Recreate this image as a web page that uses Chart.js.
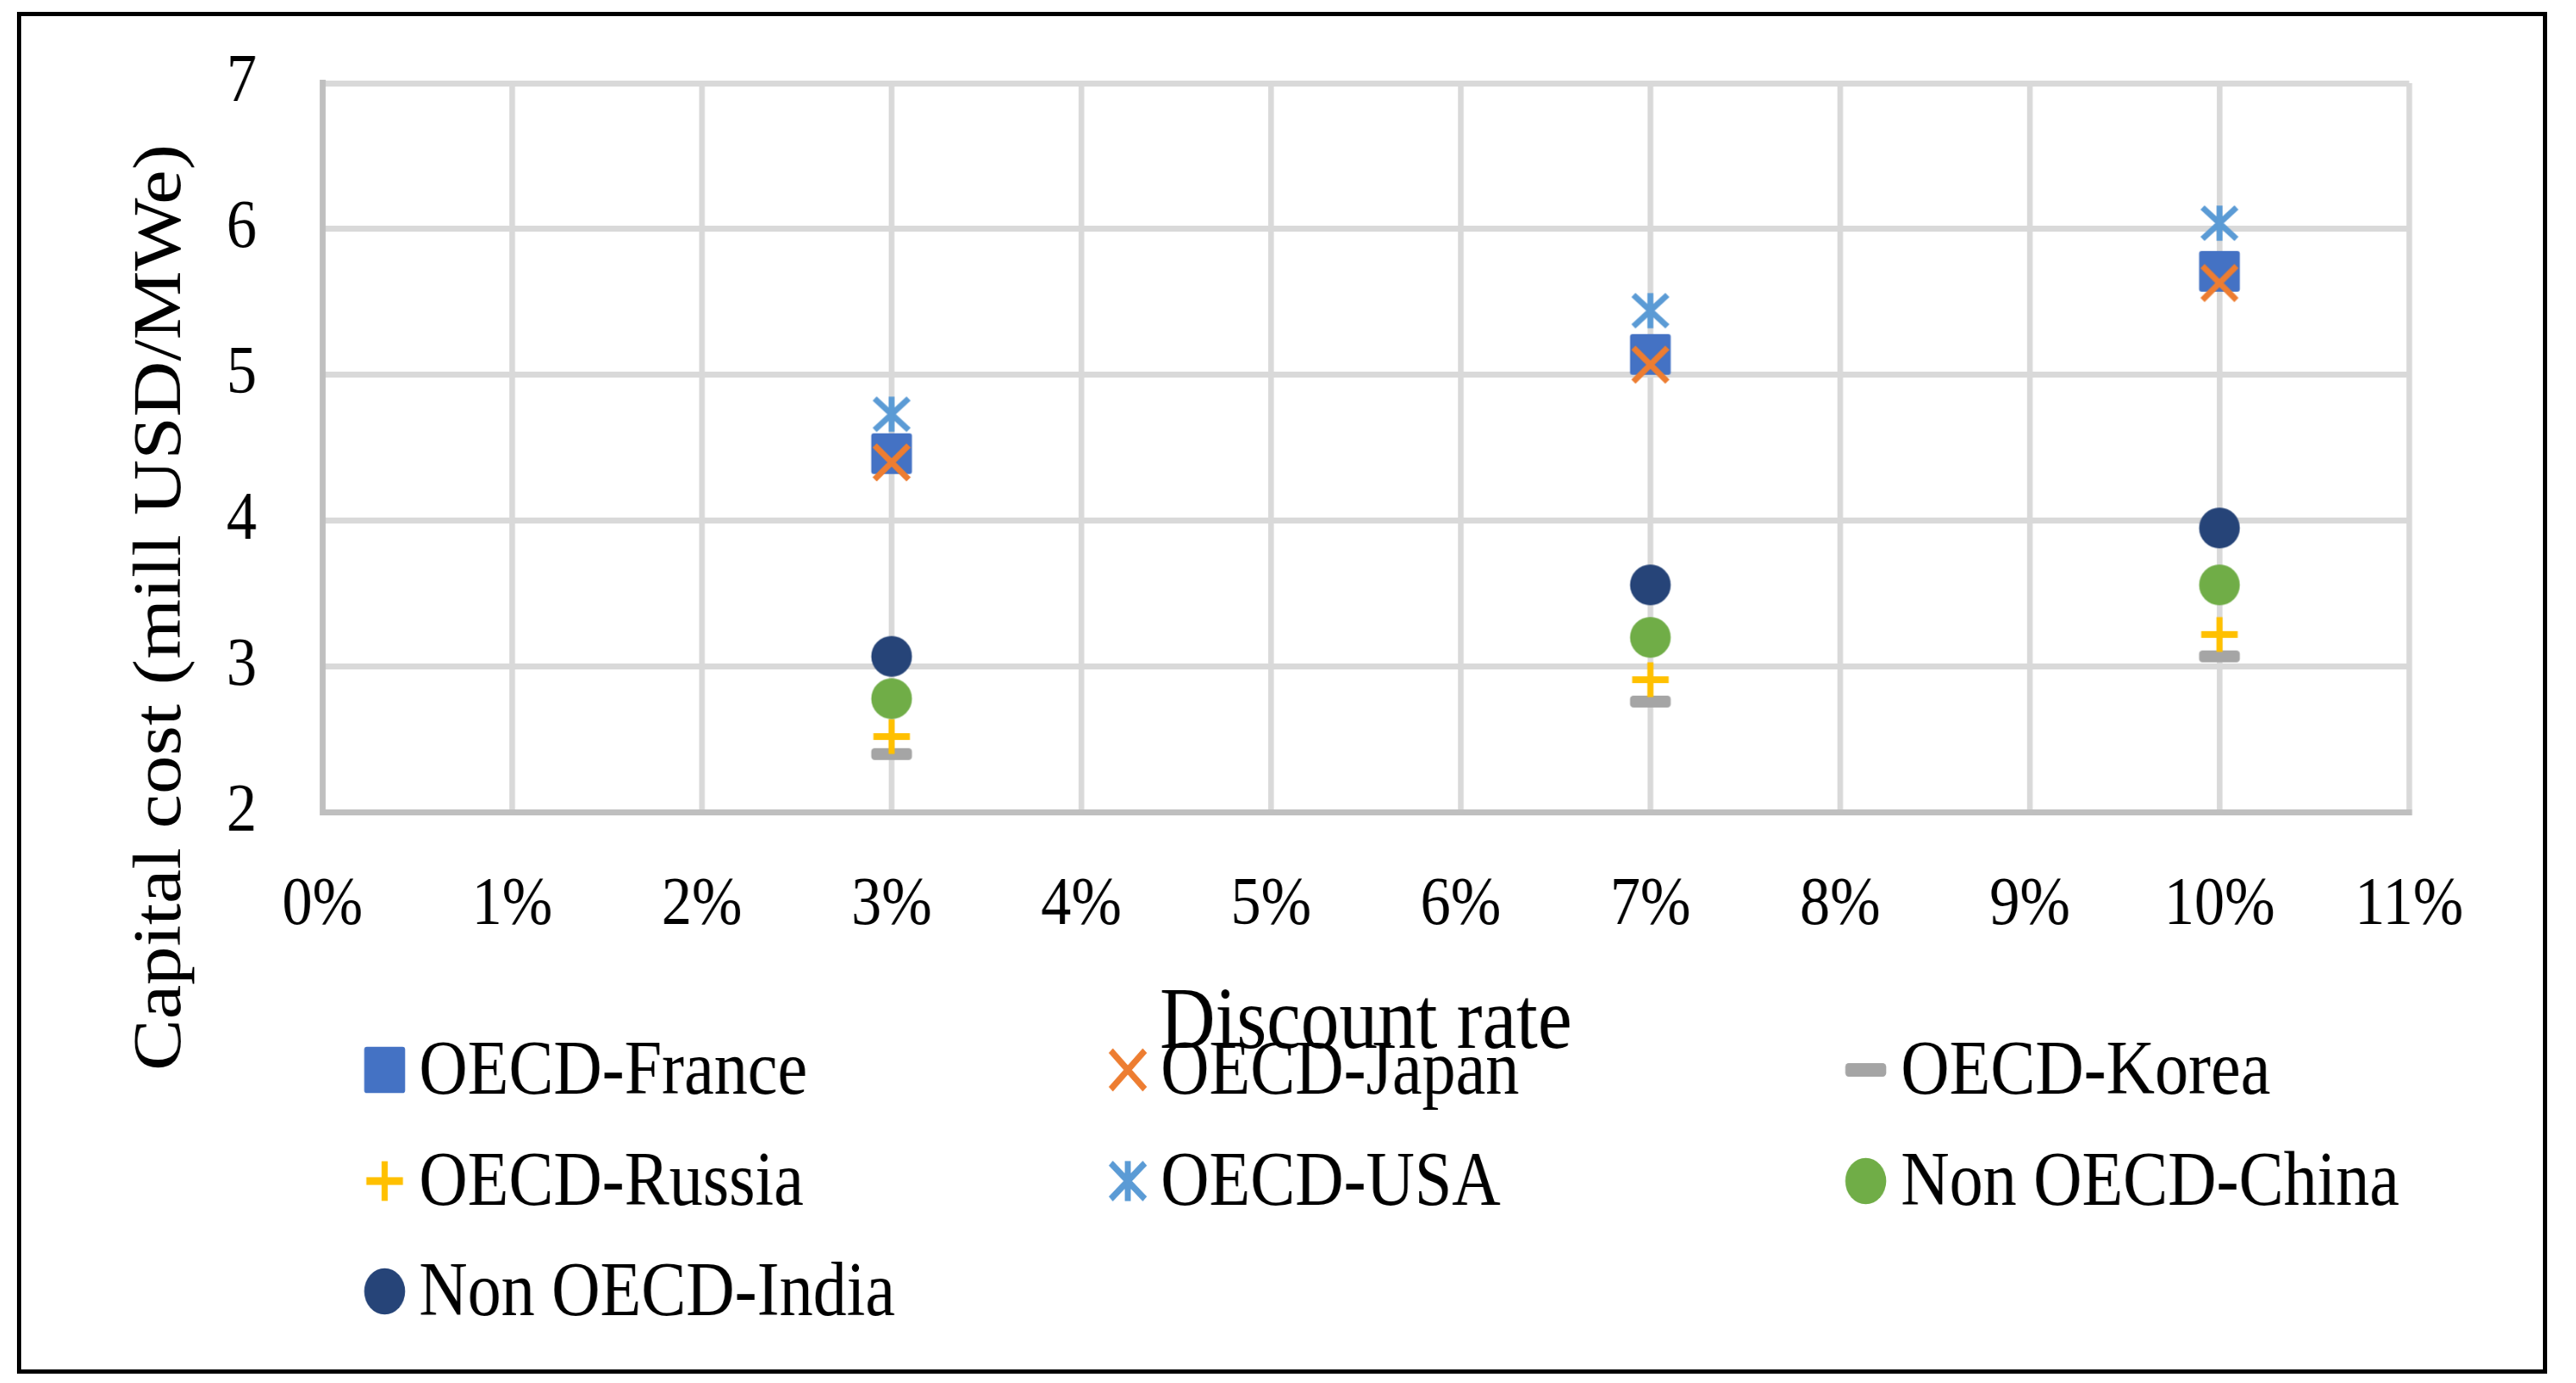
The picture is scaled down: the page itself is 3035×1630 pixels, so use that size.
<!DOCTYPE html>
<html>
<head>
<meta charset="utf-8">
<script src="https://cdn.jsdelivr.net/npm/chart.js@4.4.1/dist/chart.umd.min.js"></script>
<style>
  html, body { margin: 0; padding: 0; background: #fff; overflow: hidden; }
  #frame {
    position: absolute; left: 20px; top: 14px;
    width: 2981px; height: 1605px;
    box-sizing: border-box; border: 5px solid #000;
  }
  #chart { position: absolute; left: 0; top: 0; }
</style>
</head>
<body>
<div id="frame"></div>
<!-- drawn wide, then squeezed to the page width: the source figure has narrow text -->
<canvas id="chart" width="3449" height="1630" style="width:3035px;height:1630px"></canvas>
<script>
//
// Data
//
const rates = [3, 7, 10];

const france = [4.46, 5.14, 5.71];
const japan = [4.40, 5.07, 5.63];
const korea = [2.40, 2.76, 3.07];
const russia = [2.52, 2.91, 3.22];
const usa = [4.73, 5.44, 6.04];
const china = [2.78, 3.20, 3.56];
const india = [3.07, 3.56, 3.95];

const seriesNames = ['OECD-France', 'OECD-Japan', 'OECD-Korea', 'OECD-Russia', 'OECD-USA', 'Non OECD-China', 'Non OECD-India'];
const seriesValues = [france, japan, korea, russia, usa, china, india];
const seriesShapes = ['square', 'x', 'dash', 'plus', 'star', 'circle', 'circle'];
const seriesColors = ['#4472C4', '#ED7D31', '#A5A5A5', '#FFC000', '#5B9BD5', '#70AD47', '#264478'];

const xTickLabels = ['0%', '1%', '2%', '3%', '4%', '5%', '6%', '7%', '8%', '9%', '10%', '11%'];
const xTitle = 'Discount rate';
const yTitle = 'Capital cost (mill USD/MWe)';

const squeeze = 0.88;
const fontFamily = '"Liberation Serif", "Times New Roman", serif';

//
// Marker images (Excel style markers)
//
function makeMarker(shape, color, stretch, scale) {
    const size = 56 * scale;
    const c = document.createElement('canvas');
    c.width = Math.round(size * stretch);
    c.height = Math.round(size);
    const g = c.getContext('2d');
    g.translate(c.width / 2, c.height / 2);
    g.scale(stretch * scale, scale);
    g.fillStyle = color;
    g.strokeStyle = color;
    if (shape === 'square') {
        g.beginPath();
        g.roundRect(-24, -24, 48, 48, 3);
        g.fill();
    } else if (shape === 'circle') {
        g.beginPath();
        g.arc(0, 0, 24, 0, Math.PI * 2);
        g.fill();
    } else if (shape === 'dash') {
        g.beginPath();
        g.roundRect(-24, -7, 48, 14, 4);
        g.fill();
    } else if (shape === 'plus') {
        g.fillRect(-21.5, -4, 43, 8);
        g.fillRect(-3.6, -20.5, 7.2, 41);
    } else {
        const h = shape === 'star' ? 18.5 : 20;
        g.lineWidth = 7;
        g.beginPath();
        g.moveTo(-20, -h);
        g.lineTo(20, h);
        g.moveTo(-20, h);
        g.lineTo(20, -h);
        g.stroke();
        if (shape === 'star') {
            g.fillRect(-3.5, -20.7, 7, 41.4);
        }
    }
    return c;
}

const datasets = seriesNames.map((name, i) => ({
    label: name,
    data: rates.map((r, j) => ({ x: r, y: seriesValues[i][j] })),
    pointStyle: makeMarker(seriesShapes[i], seriesColors[i], 1 / squeeze, 1),
    legendMarker: makeMarker(seriesShapes[i], seriesColors[i], 1, 1.14),
    pointRadius: 24,
    backgroundColor: seriesColors[i],
    borderColor: seriesColors[i],
    order: seriesNames.length - i
}));

//
// Axis titles + 3 column legend
//
const extras = {
    id: 'extras',
    afterDraw(chart) {
        const ctx = chart.ctx;
        const area = chart.chartArea;
        ctx.save();
        ctx.fillStyle = '#000';
        ctx.font = '103px ' + fontFamily;
        ctx.textAlign = 'center';
        ctx.textBaseline = 'alphabetic';
        ctx.fillText(xTitle, (area.left + area.right) / 2, 1235);

        ctx.save();
        ctx.font = '91px ' + fontFamily;
        ctx.translate(217, 716);
        ctx.rotate(-Math.PI / 2);
        ctx.textBaseline = 'middle';
        ctx.fillText(yTitle, 0, 0);
        ctx.restore();

        const markerX = [515, 1510, 2498];
        const textX = [561, 1554, 2545];
        const rowY = [1289, 1420, 1550];
        ctx.font = '90px ' + fontFamily;
        ctx.textAlign = 'left';
        chart.data.datasets.forEach((ds, i) => {
            const col = i % 3;
            const row = Math.floor(i / 3);
            const m = ds.legendMarker;
            ctx.drawImage(m, markerX[col] - m.width / 2, rowY[row] - 28 - m.height / 2);
            ctx.fillText(ds.label, textX[col], rowY[row]);
        });
        ctx.restore();
    }
};

const tickFont = { family: fontFamily, size: 81 };

const chart = new Chart(document.getElementById('chart'), {
    type: 'scatter',
    data: { datasets: datasets },
    options: {
        responsive: false,
        devicePixelRatio: 1,
        animation: false,
        events: [],
        layout: {
            padding: { left: 0, right: 223.4, top: 98, bottom: 472.5 }
        },
        plugins: {
            legend: { display: false },
            tooltip: { enabled: false }
        },
        scales: {
            x: {
                type: 'linear',
                min: 0,
                max: 11,
                ticks: {
                    stepSize: 1,
                    padding: 62,
                    color: '#000',
                    font: tickFont,
                    callback: (v, i) => xTickLabels[i]
                },
                grid: { color: '#D9D9D9', lineWidth: 7.6, drawTicks: false },
                border: { color: '#BFBFBF', width: 7 },
                afterFit: (s) => {
                    s.height = 200;
                    s.paddingLeft = 0;
                    s.paddingRight = 0;
                }
            },
            y: {
                min: 2,
                max: 7,
                ticks: {
                    stepSize: 1,
                    padding: 88,
                    color: '#000',
                    font: tickFont
                },
                grid: { color: '#D9D9D9', lineWidth: 7, drawTicks: false },
                border: { color: '#BFBFBF', width: 8 },
                afterFit: (s) => {
                    s.width = 431.8;
                    s.paddingTop = 0;
                    s.paddingBottom = 0;
                }
            }
        }
    },
    plugins: [extras]
});
</script>
</body>
</html>
